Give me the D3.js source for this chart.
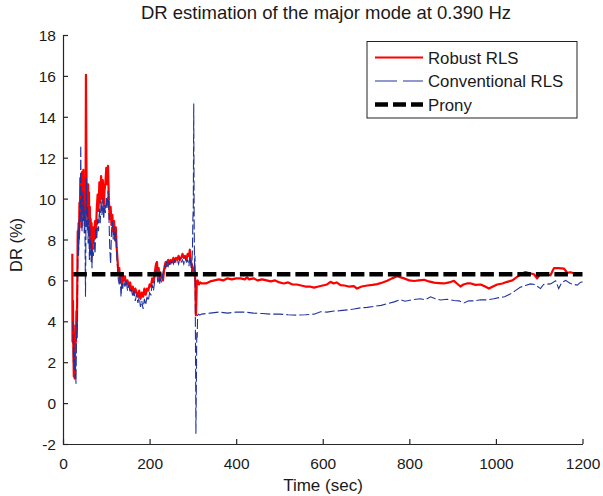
<!DOCTYPE html>
<html><head><meta charset="utf-8">
<script src="https://cdn.jsdelivr.net/npm/d3@7"></script>
<style>
body{margin:0;background:#fff}
svg{display:block}
text{font-family:"Liberation Sans",Arial,Helvetica,sans-serif;fill:#1a1a1a}
</style>
</head><body>
<svg id="chart" width="603" height="496"></svg>
<script>
// ---- data ----
const titleText = "DR estimation of the major mode at 0.390 Hz";
const xLabel = "Time (sec)";
const yLabel = "DR (%)";
const xTicks = [0, 200, 400, 600, 800, 1000, 1200];
const yTicks = [-2, 0, 2, 4, 6, 8, 10, 12, 14, 16, 18];
const seriesNames = ["Robust RLS", "Conventional RLS", "Prony"];

const redTime = [21.5,22,23,24,25,26,27,28,29,30,31,32,33,34,35,36,37,38,39,40,41,42,43,44,45,46,47,48,49,50,51,52,53,54,55,56,57,58,59,60,61,62,63,64,65,66,67,68,69,70,72,74,76,78,80,82,84,86,88,90,92,94,96,98,100,102,104,106,108,110,112,114,116,118,120,122,124,126,128,130,132,134,136,138,140,143,146,149,152,155,158,161,164,167,170,173,176,179,182,185,188,191,194,197,200,203,206,209,212,215,217,219,221,223,225,228,231,234,237,240,243,246,249,252,255,258,261,264,267,270,273,276,279,282,285,288,291,293,295,297,299,301,303,305,306,307,308,309,311,314,317,320,330,340,350,360,370,380,390,400,410,420,425,430,440,450,460,470,480,490,500,510,520,530,540,550,560,570,580,590,600,610,618,625,632,641,650,660,672,679,690,703,715,726,738,749,760,772,780,788,800,811,822,834,845,857,868,880,892,903,910,918,925,933,942,953,965,975,984,993,1003,1015,1026,1038,1049,1058,1068,1078,1088,1095,1103,1111,1120,1126,1134,1145,1157,1165,1172,1180,1188,1195];
const redDR = [7.3,3.0,5.0,2.5,1.3,1.8,1.2,2.4,3.8,3.0,4.5,3.6,6.0,8.4,7.5,8.8,8.2,9.8,9.0,11.0,9.5,10.2,8.6,11.3,9.6,10.8,11.4,9.4,10.5,9.0,9.8,8.8,16.05,12.0,9.5,10.6,9.2,10.7,9.0,10.3,8.5,9.6,8.2,9.0,7.6,8.8,7.2,8.5,7.8,8.6,8.0,8.9,8.3,9.5,10.2,9.4,10.8,9.8,11.1,10.0,10.9,9.6,10.4,10.8,11.5,10.7,11.6,9.9,9.0,9.6,8.7,9.2,8.4,8.9,8.0,8.6,7.6,7.0,6.3,6.6,5.9,6.2,5.8,6.3,6.0,6.2,5.8,6.0,5.7,5.9,5.5,5.7,5.3,5.6,5.4,5.2,5.5,5.1,5.4,5.2,5.6,5.3,5.6,5.5,5.8,5.7,6.1,5.9,6.4,6.8,6.9,6.3,6.6,6.0,6.4,6.2,6.0,6.6,6.9,6.7,7.0,6.8,7.0,6.9,7.1,6.9,7.1,7.0,7.2,7.0,7.1,7.3,7.1,7.2,7.0,7.3,7.2,7.5,7.0,6.8,6.7,6.4,6.6,6.3,5.6,4.3,5.0,5.9,6.0,5.8,5.9,5.85,5.85,5.95,6.0,6.05,6.0,6.1,6.05,6.1,6.1,6.05,6.15,6.05,6.1,6.0,6.05,6.0,5.95,6.0,5.9,5.85,5.9,5.8,5.8,5.75,5.7,5.7,5.65,5.7,5.75,5.8,5.93,5.85,5.9,5.77,5.75,5.7,5.72,5.6,5.7,5.75,5.78,5.82,5.9,5.98,6.1,6.2,6.15,6.1,6.0,5.97,6.0,6.03,5.95,5.89,5.87,5.85,5.9,5.98,5.85,5.7,5.8,5.85,5.85,5.78,5.8,5.7,5.6,5.7,5.8,5.85,5.93,6.0,6.17,6.3,6.41,6.35,6.3,6.1,6.3,6.3,6.28,6.25,6.6,6.6,6.58,6.37,6.4,6.35,6.3,6.35];

const blueTime = [23,24,25,26,27,28,29,30,31,32,33,34,35,36,37,38,39,40,41,42,43,44,45,46,47,48,49,50,51,52,53,54,55,56,57,58,59,60,61,62,63,64,65,66,67,68,70,72,74,76,78,80,82,84,86,88,90,92,94,96,98,100,102,104,106,108,110,112,114,116,118,120,122,124,126,128,130,132,134,136,138,140,143,146,149,152,155,158,161,164,167,170,173,176,179,182,185,188,191,194,197,200,203,206,209,212,215,217,219,221,223,225,228,231,234,237,240,243,246,249,252,255,258,261,264,267,270,273,276,279,282,285,288,291,293,295,297,299,300,301,302,303,304,305,306,307,308,309,310,311,313,316,320,340,360,380,400,420,440,460,480,500,520,540,560,580,595,610,626,640,657,672,688,703,718,735,749,765,780,790,805,826,837,849,860,872,887,903,915,926,937,949,965,980,995,1010,1020,1033,1045,1056,1068,1080,1090,1103,1110,1126,1138,1145,1152,1161,1172,1180,1188,1195,1200];
const blueDR = [4.0,2.0,3.0,1.6,2.5,1.2,1.8,0.95,2.8,4.0,3.2,6.5,8.5,7.2,9.0,8.0,9.8,8.8,12.6,9.5,10.2,8.4,9.6,10.4,8.9,9.9,8.3,9.4,7.8,5.2,8.5,11.0,9.2,8.4,9.6,7.8,9.0,8.2,7.0,8.6,7.2,8.0,6.9,7.8,6.6,7.5,7.2,8.0,7.3,8.6,8.0,9.0,8.4,9.5,8.8,9.9,9.2,10.0,9.0,9.7,9.3,10.1,9.5,10.4,9.2,7.6,6.8,8.4,8.9,8.0,8.6,7.9,8.4,7.3,6.6,6.0,5.8,6.2,5.2,5.9,5.6,6.0,5.7,6.0,5.5,5.8,5.4,5.6,5.2,5.5,5.0,5.3,4.9,5.2,4.7,5.0,4.6,5.1,4.8,5.2,5.0,5.4,5.3,5.8,5.5,6.0,6.5,6.3,5.9,6.3,5.8,6.1,5.9,6.4,6.7,6.6,6.9,6.7,6.9,6.8,7.0,6.8,7.0,6.9,7.0,6.8,7.1,6.9,7.0,6.8,7.1,6.9,7.0,6.7,7.2,6.8,6.4,7.5,9.0,9.6,14.65,8.8,6.4,7.2,3.0,-1.5,0.8,3.5,3.2,4.3,4.35,4.3,4.35,4.4,4.45,4.4,4.45,4.45,4.4,4.38,4.35,4.35,4.32,4.3,4.32,4.35,4.47,4.45,4.5,4.52,4.56,4.6,4.66,4.68,4.73,4.78,4.86,4.95,5.06,4.98,5.05,5.1,5.05,5.2,5.1,5.04,5.08,5.02,5.0,4.9,5.0,5.0,5.05,5.05,5.1,5.17,5.2,5.33,5.5,5.66,5.75,5.83,5.8,5.6,5.8,5.83,5.98,5.6,5.9,6.0,5.85,5.8,5.77,5.9,5.93];

const pronyTime = [24, 1200];
const pronyDR = [6.3, 6.3];

// ---- chart ----
const svg = d3.select("#chart");
const x = d3.scaleLinear().domain([0, 1200]).range([63, 582.5]);
const y = d3.scaleLinear().domain([-2, 18]).range([444, 35]);
const axisColor = "#262626";

const line = d3.line().x(d => x(d[0])).y(d => y(d[1]));
const redData = redTime.map((t, i) => [t, redDR[i]]);
const blueData = blueTime.map((t, i) => [t, blueDR[i]]);
const pronyData = pronyTime.map((t, i) => [t, pronyDR[i]]);

svg.append("path").datum(redData).attr("d", line)
  .attr("fill", "none").attr("stroke", "#ff0000").attr("stroke-width", 2.2)
  .attr("stroke-linejoin", "round");
svg.append("path").datum(blueData).attr("d", line)
  .attr("fill", "none").attr("stroke", "#22339c").attr("stroke-width", 1.1)
  .attr("stroke-dasharray", "10,3");
svg.append("path").datum(pronyData).attr("d", line)
  .attr("fill", "none").attr("stroke", "#000").attr("stroke-width", 4.5)
  .attr("stroke-dasharray", "13.5,5");

// axes
const plain = d => String(d);
const xAxis = d3.axisBottom(x).tickValues(xTicks).tickFormat(plain)
  .tickSizeInner(-5).tickSizeOuter(0).tickPadding(14);
const yAxis = d3.axisLeft(y).tickValues(yTicks).tickFormat(plain)
  .tickSizeInner(-5).tickSizeOuter(0).tickPadding(7);
const gx = svg.append("g").attr("transform", "translate(0,444)").call(xAxis);
const gy = svg.append("g").attr("transform", "translate(63,0)").call(yAxis);
[gx, gy].forEach(g => {
  g.select(".domain").attr("stroke", axisColor).attr("stroke-width", 1.2);
  g.selectAll(".tick line").attr("stroke", axisColor).attr("stroke-width", 1.2);
  g.selectAll(".tick text").attr("fill", "#1a1a1a")
    .style("font-family", '"Liberation Sans",Arial,sans-serif').style("font-size", "15.5px");
});
gy.selectAll(".tick text").attr("dy", "0.36em");

// title & labels
svg.append("text").attr("x", 326).attr("y", 19).attr("text-anchor", "middle")
  .style("font-size", "18.5px").text(titleText);
svg.append("text").attr("x", 323).attr("y", 491).attr("text-anchor", "middle")
  .style("font-size", "17px").text(xLabel);
svg.append("text").attr("transform", "translate(22,245) rotate(-90)").attr("text-anchor", "middle")
  .style("font-size", "16.5px").text(yLabel);

// legend
const lg = svg.append("g");
lg.append("rect").attr("x", 367).attr("y", 41.5).attr("width", 210).attr("height", 76.5)
  .attr("fill", "#fff").attr("stroke", "#222").attr("stroke-width", 1);
const legendStyles = [
  {c: "#ff0000", w: 2.2, d: null},
  {c: "#22339c", w: 1.1, d: "22,6"},
  {c: "#000", w: 4.5, d: "13,5"}
];
seriesNames.forEach((name, i) => {
  const yy = 57.5 + i * 23.5;
  lg.append("line").attr("x1", 375).attr("x2", 423).attr("y1", yy).attr("y2", yy)
    .attr("stroke", legendStyles[i].c).attr("stroke-width", legendStyles[i].w)
    .attr("stroke-dasharray", legendStyles[i].d);
  lg.append("text").attr("x", 428).attr("y", yy).attr("dy", "0.36em")
    .style("font-size", "16.8px").text(name);
});
</script>
</body></html>
